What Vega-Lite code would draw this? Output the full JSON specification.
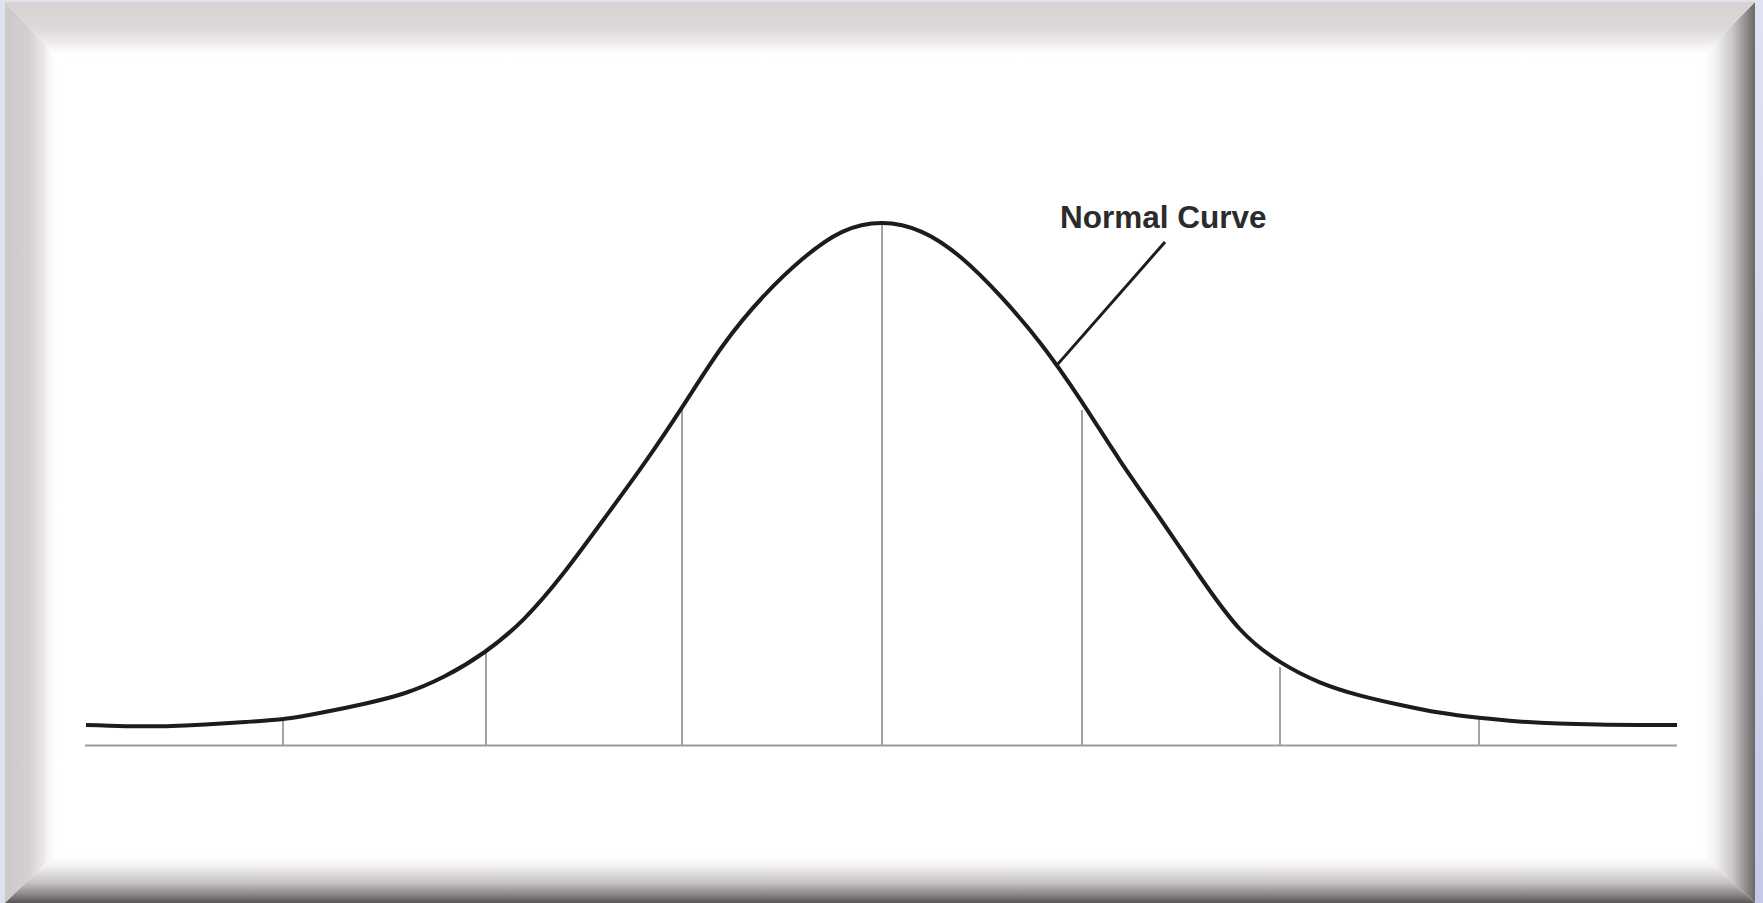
{
  "$schema": "https://vega.github.io/schema/vega-lite/v6.json",
  "width": 1763,
  "height": 903,
  "autosize": {"type": "fit", "contains": "padding"},
  "padding": 0,
  "background": "#dfe2f1",
  "config": {"view": {"stroke": null}},
  "datasets": {
    "frame": [
      {"part": "base", "x": -4.407, "x2": 4.3869, "y": 1.42297, "y2": -0.30144},
      {"part": "strip", "x": 4.3869, "x2": 4.4271, "y": 1.42679, "y2": -0.30144}
    ],
    "bandsV": [
      {"part": "top", "x": -4.407, "y": 1.42297, "y2": 1.42297},
      {"part": "top", "x": -4.1457, "y": 1.42297, "y2": 1.3177},
      {"part": "top", "x": 4.1106, "y": 1.42297, "y2": 1.3177},
      {"part": "top", "x": 4.3869, "y": 1.42297, "y2": 1.42297},
      {"part": "bottom", "x": -4.407, "y": -0.30144, "y2": -0.30144},
      {"part": "bottom", "x": -4.1457, "y": -0.2038, "y2": -0.30144},
      {"part": "bottom", "x": 4.1106, "y": -0.2038, "y2": -0.30144},
      {"part": "bottom", "x": 4.3869, "y": -0.30144, "y2": -0.30144}
    ],
    "bandsH": [
      {"part": "left", "y": 1.42297, "x": -4.407, "x2": -4.407},
      {"part": "left", "y": 1.3177, "x": -4.407, "x2": -4.1457},
      {"part": "left", "y": -0.2038, "x": -4.407, "x2": -4.1457},
      {"part": "left", "y": -0.30144, "x": -4.407, "x2": -4.407},
      {"part": "right", "y": 1.42297, "x": 4.3869, "x2": 4.3869},
      {"part": "right", "y": 1.3177, "x": 4.1106, "x2": 4.3869},
      {"part": "right", "y": -0.2038, "x": 4.1106, "x2": 4.3869},
      {"part": "right", "y": -0.30144, "x": 4.3869, "x2": 4.3869}
    ],
    "curve": [
      {"x": -4.0, "y": 0.039}, {"x": -3.8, "y": 0.037}, {"x": -3.6, "y": 0.037},
      {"x": -3.4, "y": 0.04}, {"x": -3.2, "y": 0.045}, {"x": -3.0, "y": 0.051},
      {"x": -2.8, "y": 0.064}, {"x": -2.6, "y": 0.08}, {"x": -2.4, "y": 0.1},
      {"x": -2.2, "y": 0.132}, {"x": -2.0, "y": 0.178}, {"x": -1.8, "y": 0.242},
      {"x": -1.6, "y": 0.33}, {"x": -1.4, "y": 0.432}, {"x": -1.2, "y": 0.537},
      {"x": -1.0, "y": 0.65}, {"x": -0.8, "y": 0.765}, {"x": -0.6, "y": 0.858},
      {"x": -0.4, "y": 0.931}, {"x": -0.2, "y": 0.983}, {"x": 0.0, "y": 1.0},
      {"x": 0.2, "y": 0.983}, {"x": 0.4, "y": 0.933}, {"x": 0.6, "y": 0.858},
      {"x": 0.8, "y": 0.768}, {"x": 1.0, "y": 0.66}, {"x": 1.2, "y": 0.543},
      {"x": 1.4, "y": 0.433}, {"x": 1.6, "y": 0.322}, {"x": 1.8, "y": 0.222},
      {"x": 2.0, "y": 0.16}, {"x": 2.2, "y": 0.121}, {"x": 2.4, "y": 0.096},
      {"x": 2.6, "y": 0.078}, {"x": 2.8, "y": 0.063}, {"x": 3.0, "y": 0.053},
      {"x": 3.2, "y": 0.046}, {"x": 3.4, "y": 0.042}, {"x": 3.6, "y": 0.04},
      {"x": 3.8, "y": 0.039}, {"x": 3.995, "y": 0.039}
    ],
    "sd": [
      {"x": -3.01, "y": 0, "y2": 0.049},
      {"x": -1.99, "y": 0, "y2": 0.178},
      {"x": -1.005, "y": 0, "y2": 0.6421},
      {"x": 0.0, "y": 0, "y2": 1.0},
      {"x": 1.005, "y": 0, "y2": 0.6421},
      {"x": 2.0, "y": 0, "y2": 0.1502},
      {"x": 3.0, "y": 0, "y2": 0.0526}
    ],
    "baseline": [{"x": -4.005, "x2": 3.995, "y": 0}],
    "leader": [{"x": 0.879, "y": 0.728, "x2": 1.422, "y2": 0.9636}],
    "label": [{"x": 0.894, "y": 0.9895, "text": "Normal Curve"}]
  },
  "encoding": {
    "x": {"field": "x", "type": "quantitative", "scale": {"domain": [-4.4322, 4.4271], "nice": false, "zero": false}, "axis": null},
    "y": {"field": "y", "type": "quantitative", "scale": {"domain": [-0.30144, 1.42679], "nice": false, "zero": false}, "axis": null}
  },
  "layer": [
    {
      "data": {"name": "frame"},
      "transform": [{"filter": "datum.part === 'base'"}],
      "mark": {"type": "rect", "fill": "#ffffff"},
      "encoding": {"x2": {"field": "x2"}, "y2": {"field": "y2"}}
    },
    {
      "data": {"name": "frame"},
      "transform": [{"filter": "datum.part === 'strip'"}],
      "mark": {"type": "rect", "fill": {"gradient": "linear", "x1": 0, "y1": 0, "x2": 0, "y2": 1, "stops": [{"offset": 0, "color": "#e0e3f2"}, {"offset": 1, "color": "#c5c9e7"}]}},
      "encoding": {"x2": {"field": "x2"}, "y2": {"field": "y2"}}
    },
    {
      "data": {"name": "bandsH"},
      "transform": [{"filter": "datum.part === 'left'"}],
      "mark": {"type": "area", "orient": "horizontal", "fill": {"gradient": "linear", "x1": 0, "y1": 0, "x2": 1, "y2": 0, "stops": [{"offset": 0, "color": "#cdc9c9"}, {"offset": 0.45, "color": "#d4d0d0"}, {"offset": 0.75, "color": "#ebe8e8"}, {"offset": 1, "color": "rgba(255,255,255,0)"}]}},
      "encoding": {"x2": {"field": "x2"}}
    },
    {
      "data": {"name": "bandsV"},
      "transform": [{"filter": "datum.part === 'bottom'"}],
      "mark": {"type": "area", "orient": "vertical", "fill": {"gradient": "linear", "x1": 0, "y1": 0, "x2": 0, "y2": 1, "stops": [{"offset": 0, "color": "rgba(255,255,255,0)"}, {"offset": 0.3, "color": "#efeded"}, {"offset": 0.6, "color": "#c6c2c2"}, {"offset": 0.85, "color": "#878383"}, {"offset": 1, "color": "#595555"}]}},
      "encoding": {"y2": {"field": "y2"}}
    },
    {
      "data": {"name": "bandsH"},
      "transform": [{"filter": "datum.part === 'right'"}],
      "mark": {"type": "area", "orient": "horizontal", "fill": {"gradient": "linear", "x1": 0, "y1": 0, "x2": 1, "y2": 0, "stops": [{"offset": 0, "color": "rgba(255,255,255,0)"}, {"offset": 0.3, "color": "#f0eeee"}, {"offset": 0.6, "color": "#c9c5c5"}, {"offset": 0.85, "color": "#8e8a8a"}, {"offset": 1, "color": "#6b6767"}]}},
      "encoding": {"x2": {"field": "x2"}}
    },
    {
      "data": {"name": "bandsV"},
      "transform": [{"filter": "datum.part === 'top'"}],
      "mark": {"type": "area", "orient": "vertical", "fill": {"gradient": "linear", "x1": 0, "y1": 0, "x2": 0, "y2": 1, "stops": [{"offset": 0, "color": "#d6d2d2"}, {"offset": 0.45, "color": "#dcd8d8"}, {"offset": 0.75, "color": "#eeebeb"}, {"offset": 1, "color": "rgba(255,255,255,0)"}]}},
      "encoding": {"y2": {"field": "y2"}}
    },
    {
      "data": {"name": "baseline"},
      "mark": {"type": "rule", "stroke": "#9c9c9c", "strokeWidth": 2.2},
      "encoding": {"x2": {"field": "x2"}}
    },
    {
      "data": {"name": "sd"},
      "mark": {"type": "rule", "stroke": "#a3a3a3", "strokeWidth": 2},
      "encoding": {"y2": {"field": "y2"}}
    },
    {
      "data": {"name": "curve"},
      "mark": {"type": "line", "interpolate": "natural", "stroke": "#1c1c1c", "strokeWidth": 4},
      "encoding": {}
    },
    {
      "data": {"name": "leader"},
      "mark": {"type": "rule", "stroke": "#1c1c1c", "strokeWidth": 3},
      "encoding": {"x2": {"field": "x2"}, "y2": {"field": "y2"}}
    },
    {
      "data": {"name": "label"},
      "mark": {"type": "text", "align": "left", "baseline": "alphabetic", "font": "Liberation Sans", "fontWeight": "bold", "fontSize": 31.5, "fill": "#2b2b2b"},
      "encoding": {"text": {"field": "text"}}
    }
  ]
}
